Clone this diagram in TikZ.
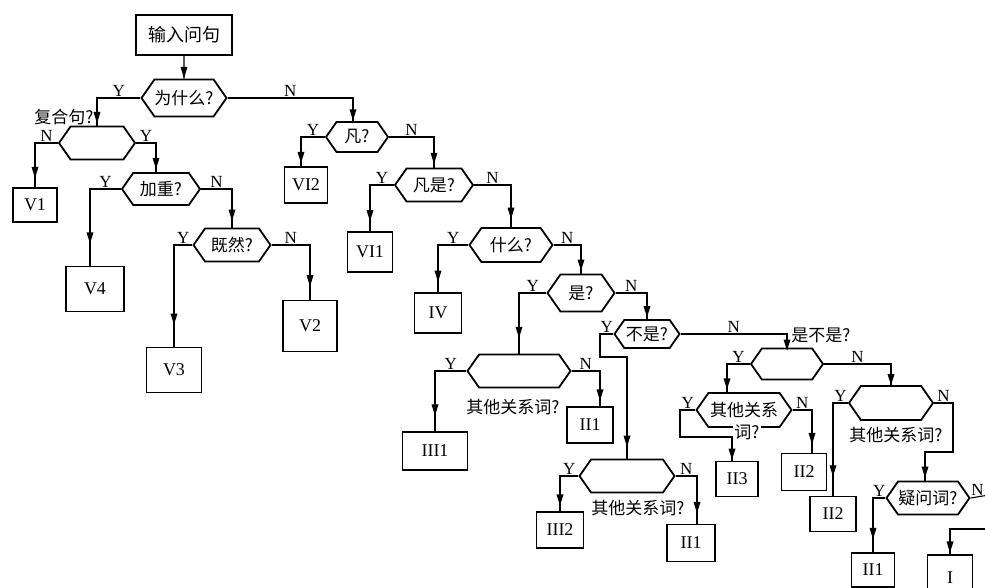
\documentclass[tikz,border=0pt]{standalone}
\usepackage{fontspec}
\setmainfont{Liberation Serif}
\newfontfamily\cjk{Noto Sans CJK SC}
\usetikzlibrary{shapes,arrows,positioning}

\begin{document}
\begin{tikzpicture}[
    x=1pt, y=-1pt,
    mybox/.style={draw, rectangle, line width=1.8pt, inner sep=0pt, font=\fontsize{18}{20}\selectfont},
    myhex/.style={draw, signal, signal to=west and east, signal pointer angle=110, line width=1.8pt, inner sep=0pt, font=\cjk\fontsize{17}{19}\selectfont},
    mytext/.style={inner sep=1pt, font=\cjk\fontsize{17}{19}\selectfont},
    myedge/.style={line width=1.1pt},
    yn/.style={font=\fontsize{17}{19}\selectfont, inner sep=1pt},
    myarrow/.style={isosceles triangle, isosceles triangle apex angle=35, shape border rotate=-90, fill, inner sep=0pt, minimum size=7pt}
]
\useasboundingbox (0,0) rectangle (985,588);

% questions
\node[myhex, minimum width=85, minimum height=37] (why) at (184,98) {为什么?};
\node[myhex, minimum width=76, minimum height=33] (comp) at (97,143) {};
\node[myhex, minimum width=78, minimum height=32] (stress) at (161,189) {加重?};
\node[myhex, minimum width=77, minimum height=33] (since) at (232,245) {既然?};
\node[myhex, minimum width=62, minimum height=30] (fan) at (357,137) {凡?};
\node[myhex, minimum width=78, minimum height=33] (fanshi) at (434,185) {凡是?};
\node[myhex, minimum width=83, minimum height=34] (what) at (511,245) {什么?};
\node[myhex, minimum width=67, minimum height=37] (shi) at (581,293) {是?};
\node[myhex, minimum width=65, minimum height=28] (bushi) at (647,334) {不是?};
\node[myhex, minimum width=103, minimum height=33] (rel1) at (519,371) {};
\node[myhex, minimum width=95, minimum height=33] (rel2) at (627,476) {};
\node[myhex, minimum width=72, minimum height=31] (sbs) at (787,364) {};
\node[myhex, minimum width=95, minimum height=34] (rel3) at (744,410) {其他关系};
\node[myhex, minimum width=84, minimum height=34] (rel4) at (891,403) {};
\node[myhex, minimum width=83, minimum height=33] (doubt) at (928,498) {疑问词?};

% texts beside the blank boxes
\node[mytext] (tcomp) at (64,117) {复合句?};
\node[mytext] (tsbs) at (821,335) {是不是?};
\node[mytext] (trel1) at (513,407) {其他关系词?};
\node[mytext] (trel2) at (638,508) {其他关系词?};
\node[mytext, fill=white] (trel3) at (747,432) {词?};
\node[mytext] (trel4) at (896,435) {其他关系词?};

% answers
\node[mybox, minimum width=96, minimum height=40] (in) at (184,35) {\cjk 输入问句};
\node[mybox, minimum width=44, minimum height=34] (v1) at (35,205) {V1};
\node[mybox, minimum width=58, minimum height=45] (v4) at (95,289) {V4};
\node[mybox, minimum width=55, minimum height=45] (v3) at (174,370) {V3};
\node[mybox, minimum width=54, minimum height=51] (v2) at (310,326) {V2};
\node[mybox, minimum width=43, minimum height=36] (vi2) at (306,185) {VI2};
\node[mybox, minimum width=45, minimum height=40] (vi1) at (370,252) {VI1};
\node[mybox, minimum width=47, minimum height=40] (iv) at (438,313) {IV};
\node[mybox, minimum width=65, minimum height=38] (iiia) at (435,451) {III1};
\node[mybox, minimum width=46, minimum height=36] (iia) at (590,425) {II1};
\node[mybox, minimum width=47, minimum height=36] (iiib) at (560,530) {III2};
\node[mybox, minimum width=48, minimum height=37] (iib) at (691,543) {II1};
\node[mybox, minimum width=42, minimum height=35] (iic) at (737,479) {II3};
\node[mybox, minimum width=45, minimum height=37] (iid) at (804,472) {II2};
\node[mybox, minimum width=46, minimum height=35] (iie) at (833,514) {II2};
\node[mybox, minimum width=43, minimum height=34] (iif) at (873,570) {II1};
\node[mybox, minimum width=45, minimum height=46] (i) at (950,578) {I};

\coordinate (b1) at (600,357);
\coordinate (b2) at (680,437);
\coordinate (b3) at (953,452);
\coordinate (e1) at (995,494);
\coordinate (e2) at (995,529);

\draw[myedge] (in) -- node[pos=0.6, myarrow]{} (why);
\draw[myedge] (why.west) -| node[pos=0.25, above, yn]{Y} node[pos=0.8, myarrow]{} (comp.north);
\draw[myedge] (why.east) -| node[pos=0.25, above, yn]{N} node[pos=0.8, myarrow]{} ([xshift=-4pt]fan.north);
\draw[myedge] (comp.west) -| node[pos=0.25, above, yn]{N} node[pos=0.8, myarrow]{} (v1.north);
\draw[myedge] (comp.east) -| node[pos=0.25, above, yn]{Y} node[pos=0.8, myarrow]{} ([xshift=-5pt]stress.north);
\draw[myedge] (stress.west) -| node[pos=0.25, above, yn]{Y} node[pos=0.8, myarrow]{} ([xshift=-5pt]v4.north);
\draw[myedge] (stress.east) -| node[pos=0.25, above, yn]{N} node[pos=0.8, myarrow]{} (since.north);
\draw[myedge] (since.west) -| node[pos=0.25, above, yn]{Y} node[pos=0.85, myarrow]{} (v3.north);
\draw[myedge] (since.east) -| node[pos=0.25, above, yn]{N} node[pos=0.8, myarrow]{} (v2.north);
\draw[myedge] (fan.west) -| node[pos=0.25, above, yn]{Y} node[pos=0.8, myarrow]{} ([xshift=-5pt]vi2.north);
\draw[myedge] (fan.east) -| node[pos=0.25, above, yn]{N} node[pos=0.8, myarrow]{} (fanshi.north);
\draw[myedge] (fanshi.west) -| node[pos=0.25, above, yn]{Y} node[pos=0.8, myarrow]{} (vi1.north);
\draw[myedge] (fanshi.east) -| node[pos=0.25, above, yn]{N} node[pos=0.8, myarrow]{} (what.north);
\draw[myedge] (what.west) -| node[pos=0.25, above, yn]{Y} node[pos=0.8, myarrow]{} (iv.north);
\draw[myedge] (what.east) -| node[pos=0.25, above, yn]{N} node[pos=0.8, myarrow]{} (shi.north);
\draw[myedge] (shi.west) -| node[pos=0.25, above, yn]{Y} node[pos=0.8, myarrow]{} (rel1.north);
\draw[myedge] (shi.east) -| node[pos=0.25, above, yn]{N} node[pos=0.8, myarrow]{} (bushi.north);
\draw[myedge] (bushi.west) -| node[pos=0.25, above, yn]{Y} (b1) -| node[pos=0.9, myarrow]{} (rel2.north);
\draw[myedge] (bushi.east) -| node[pos=0.25, above, yn]{N} node[pos=0.8, myarrow]{} (sbs.north);
\draw[myedge] (rel1.west) -| node[pos=0.25, above, yn]{Y} node[pos=0.8, myarrow]{} (iiia.north);
\draw[myedge] (rel1.east) -| node[pos=0.25, above, yn]{N} node[pos=0.8, myarrow]{} ([xshift=10pt]iia.north);
\draw[myedge] (rel2.west) -| node[pos=0.25, above, yn]{Y} node[pos=0.8, myarrow]{} (iiib.north);
\draw[myedge] (rel2.east) -| node[pos=0.25, above, yn]{N} node[pos=0.8, myarrow]{} ([xshift=6pt]iib.north);
\draw[myedge] (sbs.west) -| node[pos=0.25, above, yn]{Y} node[pos=0.8, myarrow]{} ([xshift=-17pt]rel3.north);
\draw[myedge] (sbs.east) -| node[pos=0.25, above, yn]{N} node[pos=0.8, myarrow]{} (rel4.north);
\draw[myedge] (rel3.west) -| node[pos=0.25, above, yn]{Y} (b2) -| node[pos=0.8, myarrow]{} ([xshift=-5pt]iic.north);
\draw[myedge] (rel3.east) -| node[pos=0.25, above, yn]{N} node[pos=0.8, myarrow]{} ([xshift=8pt]iid.north);
\draw[myedge] (rel4.west) -| node[pos=0.25, above, yn]{Y} node[pos=0.85, myarrow]{} (iie.north);
\draw[myedge] (rel4.east) -| node[pos=0.25, above, yn]{N} (b3) -| node[pos=0.8, myarrow]{} ([xshift=-3pt]doubt.north);
\draw[myedge] (doubt.west) -| node[pos=0.25, above, yn]{Y} node[pos=0.8, myarrow]{} (iif.north);
\draw[myedge] (doubt.east) -- node[pos=0.28, above, yn]{N} (e1);
\draw[myedge] (e2) -| node[pos=0.8, myarrow]{} (i.north);
\end{tikzpicture}
\end{document}
